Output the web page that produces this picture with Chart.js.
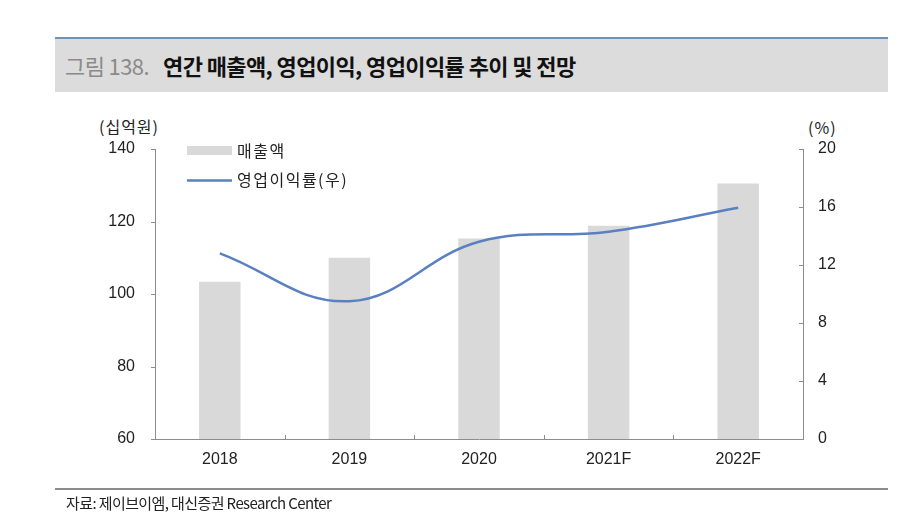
<!DOCTYPE html>
<html><head><meta charset="utf-8">
<script src="https://cdn.jsdelivr.net/npm/chart.js@4/dist/chart.umd.min.js"></script>
<style>
html,body{margin:0;padding:0;background:#fff;width:918px;height:530px;overflow:hidden;font-family:"Liberation Sans","Noto Sans CJK KR",sans-serif;}
#wrap{position:relative;width:918px;height:530px;}
#title{position:absolute;left:55px;top:37px;width:833px;height:55px;background:#dcdcdc;border-top:2px solid #7192b8;box-sizing:border-box;}
#title span{position:absolute;top:12px;font-size:22px;line-height:28px;font-family:"Noto Sans CJK KR",sans-serif;}
#t1{left:10px;color:#8a8a8a;font-weight:normal;letter-spacing:-0.6px;}
#t2{left:108px;color:#111;font-weight:bold;letter-spacing:-0.6px;}
#src{position:absolute;left:55px;top:488px;width:833px;border-top:2px solid #8c8c8c;}
#src span{position:absolute;left:11px;top:2px;font-size:15px;color:#222;font-family:"Noto Sans CJK KR",sans-serif;letter-spacing:-0.6px;}
.unit{position:absolute;font-size:16px;color:#222;font-family:"Noto Sans CJK KR",sans-serif;letter-spacing:1px;}
canvas{position:absolute;left:0;top:0;}
</style></head>
<body><div id="wrap">
<div id="title"><span id="t1">그림 138.</span><span id="t2">연간 매출액, 영업이익, 영업이익률 추이 및 전망</span></div>
<div class="unit" style="left:99px;top:114px;">(십억원)</div>
<div class="unit" style="left:808px;top:115px;">(%)</div>
<canvas id="c" width="918" height="530"></canvas>
<div id="src"><span>자료: 제이브이엠, 대신증권 Research Center</span></div>
</div>
<script>
const categories = ['2018','2019','2020','2021F','2022F'];
const sales = [103.4, 110.0, 115.3, 118.8, 130.5];
const opMargin = [12.8, 9.5, 13.6, 14.3, 15.95];
const leftTicks = [60, 80, 100, 120, 140];
const rightTicks = [0, 4, 8, 12, 16, 20];
const salesLabel = '매출액';
const marginLabel = '영업이익률(우)';

const tickFont = {family:'"Liberation Sans", Arial, sans-serif', size:16};
const tickPlugin = {
  id:'customTicks',
  afterDraw(chart){
    const ctx = chart.ctx, a = chart.chartArea;
    const x = chart.scales.x, yl = chart.scales.y, yr = chart.scales.y1;
    ctx.save();
    ctx.strokeStyle = '#8c8c8c'; ctx.lineWidth = 1;
    ctx.beginPath();
    yl.ticks.forEach(t => { const p = Math.round(yl.getPixelForValue(t.value))+0.5; ctx.moveTo(a.left-4, p); ctx.lineTo(a.left, p); });
    yr.ticks.forEach(t => { const p = Math.round(yr.getPixelForValue(t.value))+0.5; ctx.moveTo(a.right-4, p); ctx.lineTo(a.right, p); });
    for (let i = 0; i < categories.length-1; i++) {
      const p = Math.round((x.getPixelForValue(i)+x.getPixelForValue(i+1))/2)+0.5;
      ctx.moveTo(p, a.bottom-4); ctx.lineTo(p, a.bottom);
    }
    ctx.stroke();
    // legend
    const bar = chart.data.datasets.find(d => d.type === 'bar');
    const line = chart.data.datasets.find(d => d.type === 'line');
    ctx.font = '16px "Noto Sans CJK KR", sans-serif';
    ctx.textBaseline = 'middle'; ctx.textAlign = 'left';
    ctx.fillStyle = bar.backgroundColor; ctx.fillRect(187, 146, 45, 9);
    ctx.fillStyle = '#222';
    ctx.letterSpacing = '1.5px';
    ctx.fillText(bar.label, 237, 151);
    ctx.strokeStyle = line.borderColor; ctx.lineWidth = 2.5;
    ctx.beginPath(); ctx.moveTo(187, 180.5); ctx.lineTo(232, 180.5); ctx.stroke();
    ctx.fillText(line.label, 237, 180);
    ctx.restore();
  }
};

new Chart(document.getElementById('c'), {
  data: {
    labels: categories,
    datasets: [
      {type:'line', label: marginLabel, data: opMargin, yAxisID:'y1', borderColor:'#5a80c2', borderWidth:2.5, pointRadius:0, tension:0.4, fill:false, order:0},
      {type:'bar', label: salesLabel, data: sales, yAxisID:'y', backgroundColor:'#d9d9d9', barPercentage:0.32, categoryPercentage:1.0, order:1}
    ]
  },
  options: {
    responsive:false, animation:false, devicePixelRatio:1,
    layout:{padding:{left:95, right:55, top:149, bottom:51}},
    plugins:{legend:{display:false}, tooltip:{enabled:false}},
    scales:{
      x:{
        grid:{display:false, drawTicks:false},
        border:{display:true, color:'#8c8c8c', width:1},
        ticks:{font:tickFont, color:'#222', padding:11},
        afterFit(s){ s.height = 40; }
      },
      y:{
        position:'left', min:60, max:140,
        afterBuildTicks(s){ s.ticks = leftTicks.map(v=>({value:v})); },
        grid:{display:false, drawTicks:false},
        border:{display:true, color:'#8c8c8c', width:1},
        ticks:{font:tickFont, color:'#222', padding:20},
        afterFit(s){ s.width = 60; }
      },
      y1:{
        position:'right', min:0, max:20,
        afterBuildTicks(s){ s.ticks = rightTicks.map(v=>({value:v})); },
        grid:{display:false, drawTicks:false},
        border:{display:true, color:'#8c8c8c', width:1},
        ticks:{font:tickFont, color:'#222', padding:15},
        afterFit(s){ s.width = 60; }
      }
    }
  },
  plugins:[tickPlugin]
});
</script>
</body></html>
